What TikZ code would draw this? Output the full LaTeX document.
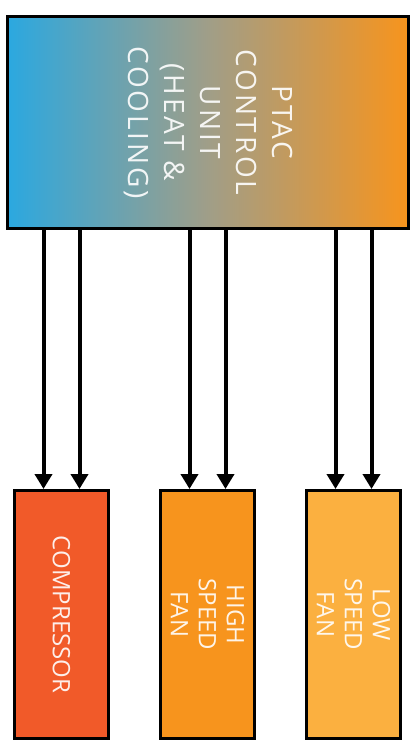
\documentclass[tikz,border=0pt]{standalone}
\usepackage{fontspec}
\setmainfont{Open Sans}
\newfontfamily\ctrlfont[LetterSpace=10]{Open Sans}
\usetikzlibrary{arrows.meta}
\begin{document}
\begin{tikzpicture}[x=1pt,y=-1pt,
  unit/.style={draw=black,line width=3pt,anchor=north west,minimum width=94pt,minimum height=248pt,inner sep=0pt},
  tag/.style={rotate=-90,align=center,text=white,text opacity=0.9,font=\fontsize{24}{28}\selectfont}]
\definecolor{ptacblue}{HTML}{2BA8E0}
\definecolor{ptacgrey}{HTML}{A09E88}
\definecolor{ptacorange}{HTML}{F7941D}
\definecolor{compred}{HTML}{F15A29}
\definecolor{fanhigh}{HTML}{F7941D}
\definecolor{fanlow}{HTML}{FBB040}
\useasboundingbox (0,0) rectangle (417,740);
\node [unit,minimum width=401pt,minimum height=212pt,left color=ptacblue,right color=ptacorange,middle color=ptacgrey,
  label={[tag,font=\ctrlfont\fontsize{28}{36}\selectfont]center:PTAC\\CONTROL\\UNIT\\(HEAT \&\\COOLING)}] (ctrl) at (6,15) {};
  \foreach \crlr/\pos/\name/\txt in {compred/13/comp/COMPRESSOR,fanhigh/159/high/{HIGH\\SPEED\\FAN},fanlow/305/low/{LOW\\SPEED\\FAN}}
  {  \node [unit,fill=\crlr,label={[tag]center:\txt}] (\name) at (\pos,489) {};
     \foreach \s in {-18,18}
       \draw [line width=4pt,-{Triangle[length=15pt,width=17pt]}] ([xshift=\s pt]\name.north |- ctrl.south) -- ([xshift=\s pt]\name.north);}
\end{tikzpicture}
\end{document}
